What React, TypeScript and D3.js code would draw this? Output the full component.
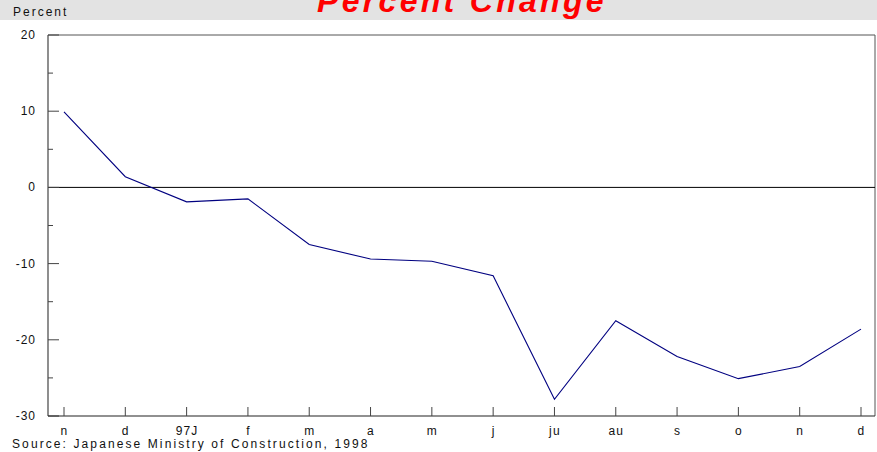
import React, { useRef, useEffect } from 'react';
import * as d3 from 'd3';

// month labels along the bottom (Nov 1996 .. Dec 1997)
const months = ['n', 'd', '97J', 'f', 'm', 'a', 'm', 'j', 'ju', 'au', 's', 'o', 'n', 'd'];
// percent change
const values = [9.9, 1.4, -1.9, -1.5, -7.5, -9.4, -9.7, -11.6, -27.8, -17.5, -22.2, -25.1, -23.5, -18.6];
const yTicks = [-30, -20, -10, 0, 10, 20];
const yMinor = [-25, -15, -5, 5, 15];

function Chart() {
  const chartRef = useRef(null);

  useEffect(() => {
    const svg = d3.select(chartRef.current);
    svg.selectAll('*').remove();

    const W = 877;
    const H = 452;
    const margin = { top: 35, right: 2, bottom: 36, left: 48 };
    const font = "'Liberation Sans', Arial, sans-serif";

    // header band
    svg.append('rect').attr('x', 0).attr('y', 0).attr('width', W).attr('height', 20).attr('fill', '#e3e3e3');
    svg
      .append('text')
      .attr('x', 462)
      .attr('y', 12)
      .attr('text-anchor', 'middle')
      .attr('font-family', font)
      .attr('font-size', 32)
      .attr('font-weight', 'bold')
      .attr('font-style', 'italic')
      .attr('letter-spacing', 3.3)
      .attr('fill', '#ff0000')
      .text('Percent Change');
    svg
      .append('text')
      .attr('x', 13)
      .attr('y', 16)
      .attr('font-family', font)
      .attr('font-size', 12)
      .attr('letter-spacing', 2)
      .attr('fill', '#111')
      .text('Percent');

    const x = d3
      .scalePoint()
      .domain(months.map((_, i) => String(i)))
      .range([64, 861]);

    const y = d3
      .scaleLinear()
      .domain([-30, 20])
      .range([H - margin.bottom, margin.top]);

    const left = margin.left;
    const right = W - margin.right;

    // frame: top and right borders
    svg
      .append('path')
      .attr('d', `M${left},${y(20)}H${right}V${y(-30)}`)
      .attr('fill', 'none')
      .attr('stroke', '#555')
      .attr('stroke-width', 1);

    // zero line
    svg
      .append('line')
      .attr('x1', left)
      .attr('x2', right)
      .attr('y1', y(0))
      .attr('y2', y(0))
      .attr('stroke', '#000')
      .attr('stroke-width', 1);

    // y axis
    svg
      .append('line')
      .attr('x1', left)
      .attr('x2', left)
      .attr('y1', y(20))
      .attr('y2', y(-30))
      .attr('stroke', '#444')
      .attr('stroke-width', 1.2);
    svg
      .selectAll('.ymaj')
      .data(yTicks)
      .enter()
      .append('line')
      .attr('x1', left)
      .attr('x2', left + 11)
      .attr('y1', (d) => y(d))
      .attr('y2', (d) => y(d))
      .attr('stroke', '#444');
    svg
      .selectAll('.ymin')
      .data(yMinor)
      .enter()
      .append('line')
      .attr('x1', left)
      .attr('x2', left + 5)
      .attr('y1', (d) => y(d))
      .attr('y2', (d) => y(d))
      .attr('stroke', '#444');
    svg
      .selectAll('.ylab')
      .data(yTicks)
      .enter()
      .append('text')
      .attr('x', 36)
      .attr('y', (d) => y(d) + 4)
      .attr('text-anchor', 'end')
      .attr('font-family', font)
      .attr('font-size', 12)
      .attr('letter-spacing', 1)
      .attr('fill', '#111')
      .text((d) => d);

    // x axis
    svg
      .append('line')
      .attr('x1', left)
      .attr('x2', right)
      .attr('y1', y(-30))
      .attr('y2', y(-30))
      .attr('stroke', '#222')
      .attr('stroke-width', 1.2);
    svg
      .selectAll('.xt')
      .data(months)
      .enter()
      .append('line')
      .attr('x1', (_, i) => x(String(i)))
      .attr('x2', (_, i) => x(String(i)))
      .attr('y1', y(-30))
      .attr('y2', y(-30) - 9)
      .attr('stroke', '#444');
    svg
      .selectAll('.xlab')
      .data(months)
      .enter()
      .append('text')
      .attr('x', (_, i) => x(String(i)) + 0.5)
      .attr('y', 435)
      .attr('text-anchor', 'middle')
      .attr('font-family', font)
      .attr('font-size', 12)
      .attr('letter-spacing', 1.2)
      .attr('fill', '#111')
      .text((d) => d);

    // data line
    const line = d3
      .line()
      .x((_, i) => x(String(i)))
      .y((d) => y(d));
    svg
      .append('path')
      .datum(values)
      .attr('d', line)
      .attr('fill', 'none')
      .attr('stroke', '#000080')
      .attr('stroke-width', 1.1);

    // source
    svg
      .append('text')
      .attr('x', 12)
      .attr('y', 448)
      .attr('font-family', font)
      .attr('font-size', 12)
      .attr('letter-spacing', 2.1)
      .attr('fill', '#111')
      .text('Source: Japanese Ministry of Construction, 1998');
  }, []);

  return (
    <svg
      ref={chartRef}
      width={877}
      height={452}
      style={{ position: 'absolute', left: 0, top: 0, background: '#fff' }}
    ></svg>
  );
}

export default function App() {
  return <Chart />;
}
